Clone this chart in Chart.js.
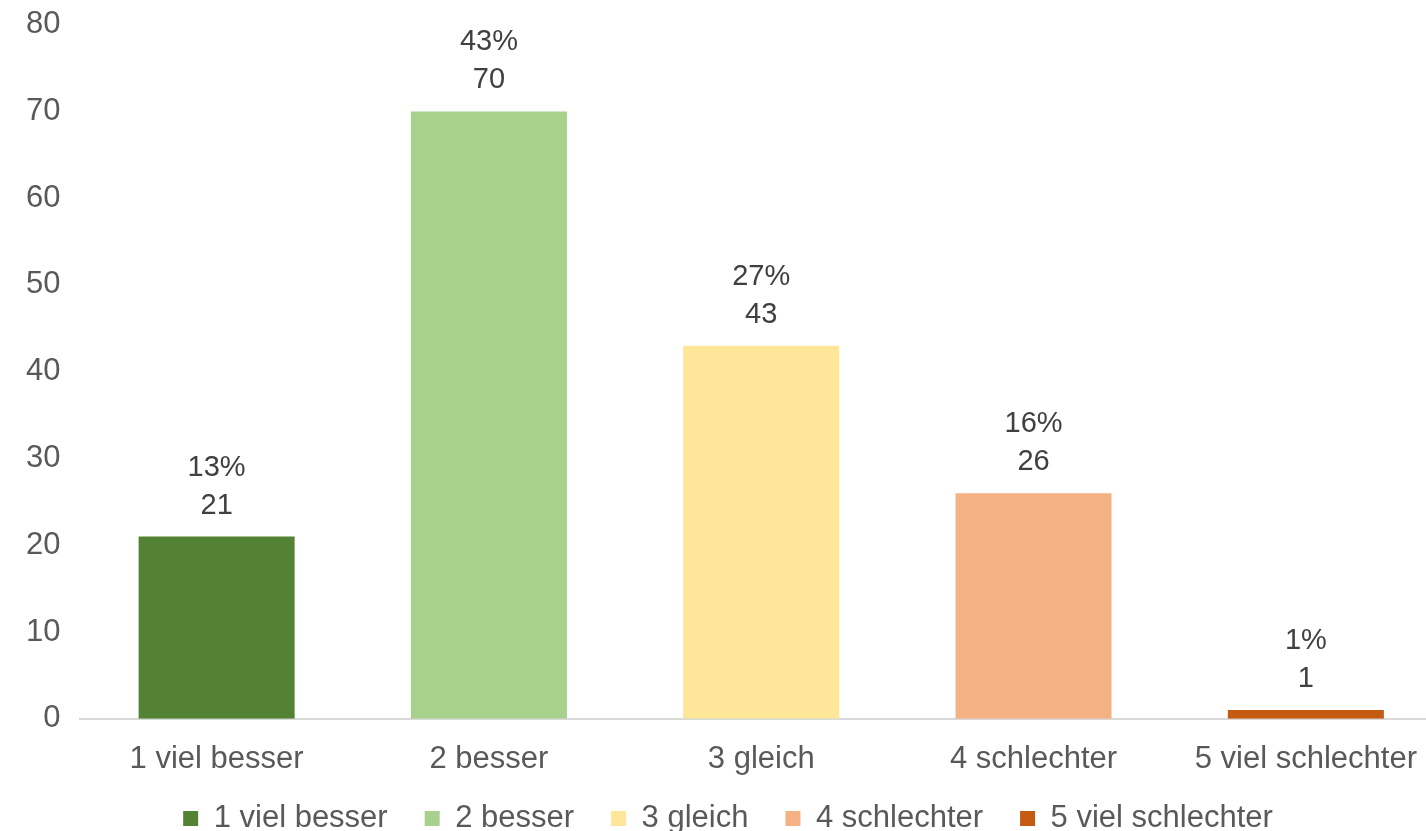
<!DOCTYPE html>
<html>
<head>
<meta charset="utf-8">
<script src="https://cdn.jsdelivr.net/npm/chart.js@4.4.1/dist/chart.umd.min.js"></script>
<style>
  html, body { margin: 0; padding: 0; background: #fff; overflow: hidden; }
  #wrap { position: absolute; left: 0; top: -6px; width: 1442px; height: 876px; }
</style>
</head>
<body>
<div id="wrap"><canvas id="chart"></canvas></div>
<script>
// values
const categories = ['1 viel besser', '2 besser', '3 gleich', '4 schlechter', '5 viel schlechter'];
const counts = [21, 70, 43, 26, 1];
const percents = ['13%', '43%', '27%', '16%', '1%'];
const barColors = ['#548235', '#a9d18e', '#ffe699', '#f4b183', '#c55a11'];
const yTicks = [0, 10, 20, 30, 40, 50, 60, 70, 80];

const FONT = "'Liberation Sans', Arial, sans-serif";

// two-line labels above each bar: percent, then count
const barLabels = {
    id: 'barLabels',
    afterDatasetsDraw(chart) {
        const c = chart.ctx;
        const meta = chart.getDatasetMeta(0);
        c.save();
        c.font = '29px ' + FONT;
        c.fillStyle = '#404040';
        c.textAlign = 'center';
        c.textBaseline = 'middle';
        meta.data.forEach((bar, i) => {
            c.fillText(String(counts[i]), bar.x, bar.y - 31);
            c.fillText(percents[i], bar.x, bar.y - 69);
        });
        c.restore();
    }
};

// wide gaps between legend items, but keep the row close to the axis labels
const legendNudge = {
    id: 'legendNudge',
    afterLayout(chart) {
        chart.legend.top -= 26;
        chart.legend.bottom -= 26;
    }
};

const ctx = document.getElementById('chart').getContext('2d');

new Chart(ctx, {
    type: 'bar',
    data: {
        labels: categories,
        datasets: [{
            data: counts,
            backgroundColor: barColors,
            barPercentage: 0.573,
            categoryPercentage: 1
        }]
    },
    options: {
        responsive: true,
        maintainAspectRatio: false,
        animation: false,
        layout: { padding: { left: 14, right: 0, top: 0, bottom: 0 } },
        plugins: {
            tooltip: { enabled: false },
            legend: {
                position: 'bottom',
                labels: {
                    font: { size: 31, family: FONT },
                    color: '#595959',
                    boxWidth: 15,
                    boxHeight: 15,
                    padding: 37,
                    generateLabels: () => categories.map((name, i) => ({
                        text: name,
                        fillStyle: barColors[i],
                        strokeStyle: barColors[i],
                        fontColor: '#595959',
                        lineWidth: 0,
                        index: i
                    }))
                }
            }
        },
        scales: {
            x: {
                grid: { display: false },
                border: { display: true, color: '#d9d9d9', width: 2 },
                ticks: { font: { size: 31, family: FONT }, color: '#595959', padding: 14 }
            },
            y: {
                min: 0,
                max: 80,
                afterBuildTicks: axis => { axis.ticks = yTicks.map(v => ({ value: v })); },
                grid: { display: false },
                border: { display: false },
                ticks: { font: { size: 31, family: FONT }, color: '#595959', padding: 12 }
            }
        }
    },
    plugins: [barLabels, legendNudge]
});
</script>
</body>
</html>
